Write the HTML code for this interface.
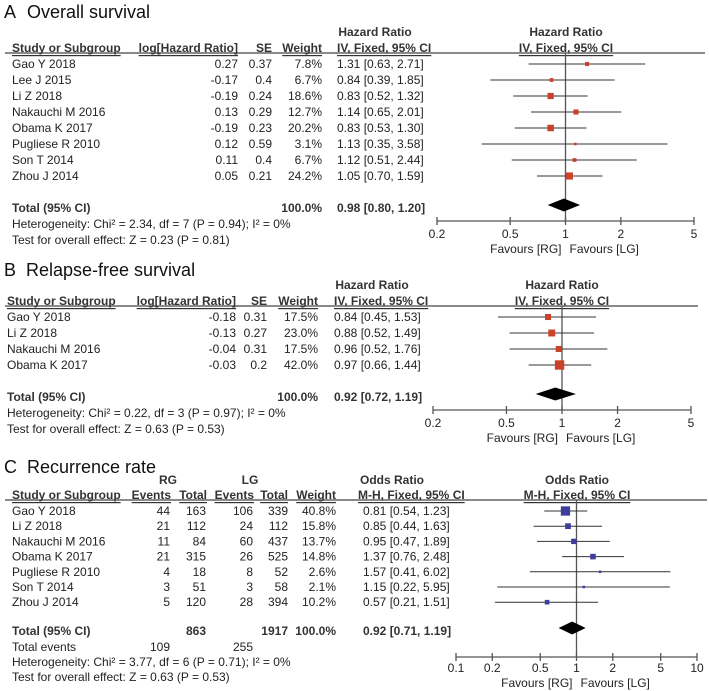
<!DOCTYPE html>
<html><head><meta charset="utf-8"><style>
html,body{margin:0;padding:0;background:#fff;}
svg{display:block;font-family:"Liberation Sans",Arial,sans-serif;}
text{dominant-baseline:central;fill:#222;font-size:12px;}
.b{font-weight:bold;fill:#333;}
.u{text-decoration:underline;}
.t{font-size:18px;fill:#111;}
</style></head><body>
<svg id="c" width="709" height="691" viewBox="0 0 709 691" xmlns="http://www.w3.org/2000/svg"></svg>
<script>
// Panel A data
const aStudies = ["Gao Y 2018","Lee J 2015","Li Z 2018","Nakauchi M 2016","Obama K 2017","Pugliese R 2010","Son T 2014","Zhou J 2014"];
const aLogHR = ["0.27","-0.17","-0.19","0.13","-0.19","0.12","0.11","0.05"];
const aSE = ["0.37","0.4","0.24","0.29","0.23","0.59","0.4","0.21"];
const aWeight = [7.8,6.7,18.6,12.7,20.2,3.1,6.7,24.2];
const aEst = [1.31,0.84,0.83,1.14,0.83,1.13,1.12,1.05];
const aLow = [0.63,0.39,0.52,0.65,0.53,0.35,0.51,0.70];
const aHigh = [2.71,1.85,1.32,2.01,1.30,3.58,2.44,1.59];
const aTotal = [0.98,0.80,1.20];
const aTicks = [0.2,0.5,1,2,5];
const aTickLabels = ["0.2","0.5","1","2","5"];
// Panel B data
const bStudies = ["Gao Y 2018","Li Z 2018","Nakauchi M 2016","Obama K 2017"];
const bLogHR = ["-0.18","-0.13","-0.04","-0.03"];
const bSE = ["0.31","0.27","0.31","0.2"];
const bWeight = [17.5,23.0,17.5,42.0];
const bEst = [0.84,0.88,0.96,0.97];
const bLow = [0.45,0.52,0.52,0.66];
const bHigh = [1.53,1.49,1.76,1.44];
const bTotal = [0.92,0.72,1.19];
const bTicks = [0.2,0.5,1,2,5];
const bTickLabels = ["0.2","0.5","1","2","5"];
// Panel C data
const cStudies = ["Gao Y 2018","Li Z 2018","Nakauchi M 2016","Obama K 2017","Pugliese R 2010","Son T 2014","Zhou J 2014"];
const cRGEvents = [44,21,11,21,4,3,5];
const cRGTotal = [163,112,84,315,18,51,120];
const cLGEvents = [106,24,60,26,8,3,28];
const cLGTotal = [339,112,437,525,52,58,394];
const cWeight = [40.8,15.8,13.7,14.8,2.6,2.1,10.2];
const cEst = [0.81,0.85,0.95,1.37,1.57,1.15,0.57];
const cLow = [0.54,0.44,0.47,0.76,0.41,0.22,0.21];
const cHigh = [1.23,1.63,1.89,2.48,6.02,5.95,1.51];
const cTotal = [0.92,0.71,1.19];
const cTicks = [0.1,0.2,0.5,1,2,5,10];
const cTickLabels = ["0.1","0.2","0.5","1","2","5","10"];

const svg = document.getElementById('c');
const NS = "http://www.w3.org/2000/svg";
function mk(tag, at, parent){const e=document.createElementNS(NS,tag);for(const k in at)e.setAttribute(k,at[k]);(parent||svg).appendChild(e);return e;}
function tx(x,y,s,cls,anchor,name){const e=mk('text',{x:x,y:y,'text-anchor':anchor||'start'});if(cls)e.setAttribute('class',cls);e.textContent=s;


return e;}
function ln(x1,y1,x2,y2,col,w,name){const e=mk('line',{x1:x1,y1:y1,x2:x2,y2:y2,stroke:col||'#333','stroke-width':w||1});


return e;}
function f2(v){return v.toFixed(2);}
function ci(e,l,h){return f2(e)+" ["+f2(l)+", "+f2(h)+"]";}

function axisFn(vmin,vmax,x0,x1){const a=Math.log10(vmin),b=Math.log10(vmax);return v=>x0+(Math.log10(v)-a)/(b-a)*(x1-x0);}

function plot(p){
  const X=axisFn(p.ticks[0],p.ticks[p.ticks.length-1],p.x0,p.x1);
  ln(X(1),p.top,X(1),p.axisY,'#555',1.3,'null-effect-line');
  ln(X(p.ticks[0]),p.axisY,X(p.ticks[p.ticks.length-1]),p.axisY,'#555',1.3,'x-axis');
  p.ticks.forEach((t,i)=>{ln(X(t),p.axisY-4,X(t),p.axisY+4,'#555',1.3,'x-tick');tx(X(t),p.axisY+p.lo1,p.tickLabels[i],null,'middle','x-tick-label');});
  tx(X(1)-4,p.axisY+p.lo2,"Favours [RG]",null,'end','favours-rg-label');
  tx(X(1)+4,p.axisY+p.lo2,"Favours [LG]",null,'start','favours-lg-label');
  p.est.forEach((e,i)=>{
    const y=p.rowY[i];
    ln(X(p.low[i]),y,X(p.high[i]),y,'#333',1,'ci-line');
    const s=Math.max(2.5,Math.sqrt(p.weight[i])*1.45);
    const r=mk('rect',{x:X(e)-s/2,y:y-s/2,width:s,height:s,fill:p.col});
    
    
  });
  const ty=p.totalY,t=p.total;
  const d=mk('polygon',{points:`${X(t[1])},${ty} ${X(t[0])},${ty-6.5} ${X(t[2])},${ty} ${X(t[0])},${ty+6.5}`,fill:'#000'});
  
  
}

// ---------- Panel A ----------
tx(4,12,"A",'t','start','panel-a-letter');tx(27,12,"Overall survival",'t','start','panel-a-title');
tx(375,32,"Hazard Ratio",'b','middle','col-header');tx(566,32,"Hazard Ratio",'b','middle','plot-header');
tx(12,48,"Study or Subgroup",'b u','start','col-header');tx(238,48,"log[Hazard Ratio]",'b u','end','col-header');
tx(272,48,"SE",'b','end','col-header');tx(322,48,"Weight",'b u','end','col-header');
tx(337,48,"IV, Fixed, 95% CI",'b u','start','col-header');tx(566,48,"IV, Fixed, 95% CI",'b u','middle','plot-header');
ln(5,53,705,53,'#444',1.2,'header-rule');
const aY=aStudies.map((s,i)=>64+i*16);
aStudies.forEach((s,i)=>{const y=aY[i];tx(12,y,s,null,'start','study-name');tx(238,y,aLogHR[i],null,'end','log-hr');tx(272,y,aSE[i],null,'end','se');
tx(322,y,aWeight[i].toFixed(1)+"%",null,'end','weight');tx(337,y,ci(aEst[i],aLow[i],aHigh[i]),null,'start','hr-ci');});
tx(12,208,"Total (95% CI)",'b','start','total-label');tx(322,208,"100.0%",'b','end','total-weight');tx(337,208,ci(aTotal[0],aTotal[1],aTotal[2]),'b','start','total-hr');
tx(12,224,"Heterogeneity: Chi² = 2.34, df = 7 (P = 0.94); I² = 0%",null,'start','heterogeneity');
tx(12,240,"Test for overall effect: Z = 0.23 (P = 0.81)",null,'start','overall-effect');
plot({ticks:aTicks,tickLabels:aTickLabels,x0:437,x1:694,top:53,axisY:221,lo1:13,lo2:28,rowY:aY,est:aEst,low:aLow,high:aHigh,weight:aWeight,total:aTotal,totalY:205,col:'#c9432a'});

// ---------- Panel B ----------
tx(4,270,"B",'t','start','panel-b-letter');tx(26,270,"Relapse-free survival",'t','start','panel-b-title');
tx(372,285,"Hazard Ratio",'b','middle','col-header');tx(562,285,"Hazard Ratio",'b','middle','plot-header');
tx(7,301,"Study or Subgroup",'b u','start','col-header');tx(236,301,"log[Hazard Ratio]",'b u','end','col-header');
tx(267,301,"SE",'b','end','col-header');tx(318,301,"Weight",'b u','end','col-header');
tx(334,301,"IV, Fixed, 95% CI",'b u','start','col-header');tx(562,301,"IV, Fixed, 95% CI",'b u','middle','plot-header');
ln(5,306,698,306,'#444',1.2,'header-rule');
const bY=bStudies.map((s,i)=>317+i*16);
bStudies.forEach((s,i)=>{const y=bY[i];tx(7,y,s,null,'start','study-name');tx(236,y,bLogHR[i],null,'end','log-hr');tx(267,y,bSE[i],null,'end','se');
tx(318,y,bWeight[i].toFixed(1)+"%",null,'end','weight');tx(334,y,ci(bEst[i],bLow[i],bHigh[i]),null,'start','hr-ci');});
tx(7,397,"Total (95% CI)",'b','start','total-label');tx(318,397,"100.0%",'b','end','total-weight');tx(334,397,ci(bTotal[0],bTotal[1],bTotal[2]),'b','start','total-hr');
tx(7,413,"Heterogeneity: Chi² = 0.22, df = 3 (P = 0.97); I² = 0%",null,'start','heterogeneity');
tx(7,429,"Test for overall effect: Z = 0.63 (P = 0.53)",null,'start','overall-effect');
plot({ticks:bTicks,tickLabels:bTickLabels,x0:433,x1:691,top:306,axisY:410,lo1:13,lo2:28,rowY:bY,est:bEst,low:bLow,high:bHigh,weight:bWeight,total:bTotal,totalY:394,col:'#c9432a'});

// ---------- Panel C ----------
tx(4,467,"C",'t','start','panel-c-letter');tx(27,467,"Recurrence rate",'t','start','panel-c-title');
tx(168,480,"RG",'b','middle','group-header');tx(250,480,"LG",'b','middle','group-header');
tx(392,480,"Odds Ratio",'b','middle','col-header');tx(577,480,"Odds Ratio",'b','middle','plot-header');
tx(12,495,"Study or Subgroup",'b u','start','col-header');
tx(171,495,"Events",'b u','end','col-header');tx(207,495,"Total",'b u','end','col-header');
tx(254,495,"Events",'b u','end','col-header');tx(288,495,"Total",'b u','end','col-header');
tx(336,495,"Weight",'b u','end','col-header');
tx(358,495,"M-H, Fixed, 95% CI",'b u','start','col-header');tx(577,495,"M-H, Fixed, 95% CI",'b u','middle','plot-header');
ln(5,500,707,500,'#444',1.2,'header-rule');
const cY=cStudies.map((s,i)=>511+i*15.2);
cStudies.forEach((s,i)=>{const y=cY[i];tx(12,y,s,null,'start','study-name');
tx(170,y,String(cRGEvents[i]),null,'end','rg-events');tx(206,y,String(cRGTotal[i]),null,'end','rg-total');
tx(253,y,String(cLGEvents[i]),null,'end','lg-events');tx(288,y,String(cLGTotal[i]),null,'end','lg-total');
tx(336,y,cWeight[i].toFixed(1)+"%",null,'end','weight');tx(363,y,ci(cEst[i],cLow[i],cHigh[i]),null,'start','or-ci');});
tx(12,631,"Total (95% CI)",'b','start','total-label');tx(206,631,"863",'b','end','total-rg');tx(288,631,"1917",'b','end','total-lg');
tx(336,631,"100.0%",'b','end','total-weight');tx(363,631,ci(cTotal[0],cTotal[1],cTotal[2]),'b','start','total-or');
tx(12,647,"Total events",null,'start','total-events-label');tx(170,647,"109",null,'end','rg-total-events');tx(253,647,"255",null,'end','lg-total-events');
tx(12,662,"Heterogeneity: Chi² = 3.77, df = 6 (P = 0.71); I² = 0%",null,'start','heterogeneity');
tx(12,677,"Test for overall effect: Z = 0.63 (P = 0.53)",null,'start','overall-effect');
plot({ticks:cTicks,tickLabels:cTickLabels,x0:456,x1:697,top:500,axisY:657,lo1:11,lo2:26,rowY:cY,est:cEst,low:cLow,high:cHigh,weight:cWeight,total:cTotal,totalY:628,col:'#3e3c9c'});
</script>
</body></html>
